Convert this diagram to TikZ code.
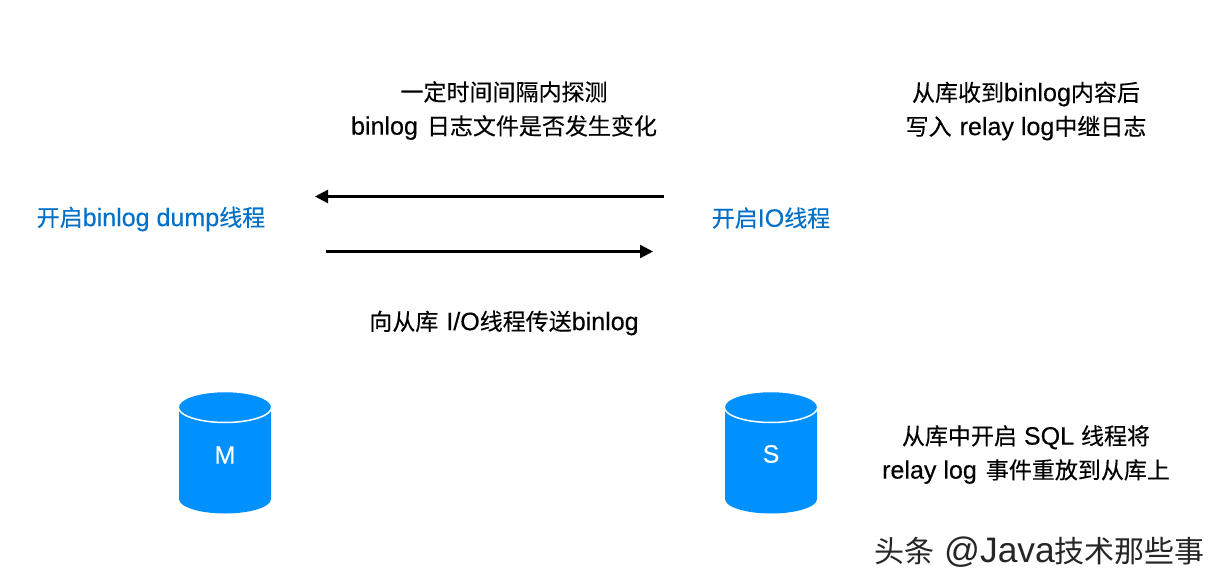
\documentclass[tikz,border=0pt]{standalone}
\usepackage{fontspec}
\setmainfont[FakeBold=0.25]{Noto Sans CJK SC}
\newfontfamily\lat[FakeBold=0.25,Scale=1.09]{Liberation Sans}
\newfontfamily\latw[Scale=1.18]{Liberation Sans}
\newfontfamily\cjkw{Noto Sans CJK SC}
\newcommand{\Lt}[1]{{\lat #1}}
\newcommand{\Sp}{\hspace{9pt}}
\usetikzlibrary{arrows.meta}
\definecolor{dbblue}{HTML}{0091FF}
\definecolor{txtblue}{HTML}{0070C9}
\tikzset{
  lbl/.style={inner sep=0pt,font=\fontsize{23pt}{34pt}\selectfont,align=center,text=black},
  blbl/.style={lbl,text=txtblue},
  arr/.style={-{Triangle[length=13pt,width=13pt]},line width=2.4pt,black},
  dbfill/.style={fill=dbblue,draw=none},
  dbtop/.style={fill=dbblue,draw=white,line width=1.5pt},
  dblbl/.style={inner sep=0pt,text=white,font=\lat\fontsize{23pt}{26pt}\selectfont}
}
\begin{document}
\begin{tikzpicture}[x=1pt,y=-1pt]
\useasboundingbox (0,0) rectangle (1221,586);
\fill[white] (0,0) rectangle (1221,586);
\node[lbl] (t1) at (504,110.5) {一定时间间隔内探测\\\Lt{binlog}\Sp 日志文件是否发生变化};
\node[lbl] (t2) at (1026,111) {从库收到\Lt{binlog}内容后\\写入\hspace{8pt}\Lt{relay log}中继日志};
\node[blbl] (a) at (151,219) {开启\Lt{binlog dump}线程};
\node[blbl] (b) at (771,218) {开启\Lt{IO}线程};
\coordinate (a1s) at (664,196.5); \coordinate (a1e) at (315,196.5);
\coordinate (a2s) at (326,251.5); \coordinate (a2e) at (653,251.5);
\draw[arr] (a1s) -- (a1e);
\draw[arr] (a2s) -- (a2e);
\node[lbl] (t3) at (504,323) {向从库\hspace{8pt}\Lt{I/O}线程传送\Lt{binlog}};
% master cylinder
\fill[dbfill] (179,407) -- (179,499) arc[start angle=180,end angle=0,x radius=46,y radius=14.5] -- (271,407) -- cycle;
\draw[dbtop] (225,407) ellipse[x radius=46.8,y radius=15.5];
\node[dblbl] (ml) at (225,455) {M};
% slave cylinder
\fill[dbfill] (725,407) -- (725,499) arc[start angle=180,end angle=0,x radius=46,y radius=14.5] -- (817,407) -- cycle;
\draw[dbtop] (771,407) ellipse[x radius=46.8,y radius=15.5];
\node[dblbl] (sl) at (771,454) {S};
\node[lbl] (t4) at (1026,454.5) {从库中开启\hspace{7pt}\Lt{SQL}\hspace{7pt}线程将\\\Lt{relay log}\Sp 事件重放到从库上};
\node[inner sep=0pt,text=black!85,font=\fontsize{30pt}{32pt}\selectfont] (wm) at (1039.5,552) {\cjkw 头条\hspace{10pt}{\latw @Java}技术那些事};
\end{tikzpicture}
\end{document}
